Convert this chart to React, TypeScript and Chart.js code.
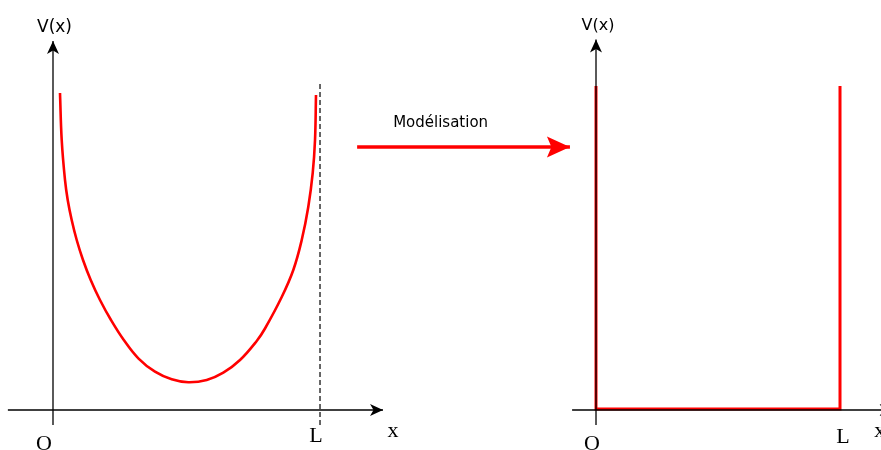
import React, { useEffect, useRef } from "react";
import { Chart, registerables } from "chart.js";

Chart.register(...registerables);

// Left panel: realistic potential well, x in units where L = 10
const curveX = [0.262, 0.326, 0.449, 0.551, 0.700, 0.888, 1.124, 1.412, 1.760, 2.172, 2.652, 3.195, 3.820, 4.446, 5.067, 5.757, 6.378, 7.004, 7.629, 7.940, 8.566, 9.000, 9.315, 9.562, 9.727, 9.813, 9.850];
const curveV = [9.969, 8.491, 7.233, 6.604, 5.975, 5.346, 4.717, 4.088, 3.459, 2.830, 2.201, 1.626, 1.204, 0.965, 0.871, 0.943, 1.173, 1.572, 2.170, 2.563, 3.553, 4.403, 5.346, 6.393, 7.453, 8.491, 9.906];

// Right panel: infinite square well model
const squareX = [0, 0, 10, 10];
const squareV = [10.19, 0.03, 0.03, 10.19];

// Axes extents (data units)
const leftAxisX = [-1.69, 12.36];
const leftAxisV = [-0.47, 11.6];
const rightAxisX = [-0.98, 12.2];
const rightAxisV = [-0.47, 11.65];
const boundaryX = [10, 10];
const boundaryV = [-0.47, 10.28];
// Modelling arrow (left-panel units)
const arrowX = [11.39, 19.36];
const arrowV = [8.27, 8.27];

const tickLabels = ["O", "L", "x"];
const yTitle = "V(x)";
const arrowTitle = "Modélisation";

function stealth(ctx: CanvasRenderingContext2D, tx: number, ty: number, ang: number, len: number, half: number, inset: number, color: string) {
  const c = Math.cos(ang), s = Math.sin(ang);
  const pt = (a: number, b: number) => [tx - a * c - b * -s, ty - a * s - b * c];
  ctx.save();
  ctx.fillStyle = color;
  ctx.beginPath();
  ctx.moveTo(tx, ty);
  let p = pt(len, half); ctx.lineTo(p[0], p[1]);
  p = pt(len - inset, 0); ctx.lineTo(p[0], p[1]);
  p = pt(len, -half); ctx.lineTo(p[0], p[1]);
  ctx.closePath();
  ctx.fill();
  ctx.restore();
}

const decor = {
  id: "decor",
  afterDatasetsDraw(chart: any) {
    const ctx = chart.ctx as CanvasRenderingContext2D;
    const xl = chart.scales.xl, xr = chart.scales.xr, y = chart.scales.y;
    // arrowheads
    stealth(ctx, xl.getPixelForValue(leftAxisX[1]), y.getPixelForValue(0), 0, 13, 6, 3.5, "#000");
    stealth(ctx, xl.getPixelForValue(0), y.getPixelForValue(leftAxisV[1]), -Math.PI / 2, 13, 6, 3.5, "#000");
    stealth(ctx, xr.getPixelForValue(rightAxisX[1]), y.getPixelForValue(0), 0, 14, 6, 3.5, "#000");
    stealth(ctx, xr.getPixelForValue(0), y.getPixelForValue(rightAxisV[1]), -Math.PI / 2, 13, 6, 3.5, "#000");
    stealth(ctx, xl.getPixelForValue(arrowX[1]), y.getPixelForValue(arrowV[1]), 0, 23, 10.5, 4.5, "#ff0000");

    ctx.save();
    ctx.fillStyle = "#000";
    ctx.textAlign = "center";
    ctx.textBaseline = "alphabetic";
    ctx.font = "22px 'Liberation Serif', serif";
    const y0 = y.getPixelForValue(0);
    // left panel
    ctx.fillText(tickLabels[0], xl.getPixelForValue(0) - 9, y0 + 40.5);
    ctx.fillText(tickLabels[1], xl.getPixelForValue(10) - 4, y0 + 32);
    ctx.fillText(tickLabels[2], xl.getPixelForValue(leftAxisX[1]) + 10, y0 + 27);
    // right panel
    ctx.fillText(tickLabels[0], xr.getPixelForValue(0) - 4, y0 + 40.5);
    ctx.fillText(tickLabels[1], xr.getPixelForValue(10) + 3, y0 + 33);
    ctx.fillText(tickLabels[2], xr.getPixelForValue(rightAxisX[1]) - 14, y0 + 27);

    ctx.font = "17px 'DejaVu Sans', sans-serif";
    ctx.textBaseline = "middle";
    ctx.fillText(yTitle, xl.getPixelForValue(0) + 1.5, y.getPixelForValue(leftAxisV[1]) - 14);
    ctx.font = "16px 'DejaVu Sans', sans-serif";
    ctx.fillText(yTitle, xr.getPixelForValue(0) + 2, y.getPixelForValue(rightAxisV[1]) - 14);

    ctx.font = "15px 'DejaVu Sans', sans-serif";
    ctx.textAlign = "left";
    ctx.textBaseline = "alphabetic";
    ctx.fillText(arrowTitle, xl.getPixelForValue(arrowX[0]) + 36, y.getPixelForValue(arrowV[0]) - 20);
    ctx.restore();
  },
};

const pts = (xs: number[], vs: number[]) => xs.map((x, i) => ({ x, y: vs[i] }));

export default function App() {
  const ref = useRef<HTMLCanvasElement | null>(null);
  useEffect(() => {
    document.body.style.margin = "0";
    const base = { showLine: true, pointRadius: 0, fill: false, clip: false as any };
    const chart = new Chart(ref.current!, {
      type: "scatter",
      data: {
        datasets: [
          { ...base, data: pts(leftAxisX, [0, 0]), xAxisID: "xl", borderColor: "#000", borderWidth: 1.3 },
          { ...base, data: pts([0, 0], leftAxisV), xAxisID: "xl", borderColor: "#000", borderWidth: 1.3 },
          { ...base, data: pts(boundaryX, boundaryV), xAxisID: "xl", borderColor: "#000", borderWidth: 1.2, borderDash: [5, 3] },
          { ...base, data: pts(curveX, curveV), xAxisID: "xl", borderColor: "#ff0000", borderWidth: 2.6, tension: 0.4 },
          { ...base, data: pts(arrowX, arrowV), xAxisID: "xl", borderColor: "#ff0000", borderWidth: 3.5 },
          { ...base, data: pts(rightAxisX, [0, 0]), xAxisID: "xr", borderColor: "#000", borderWidth: 1.3 },
          { ...base, data: pts([0, 0], rightAxisV), xAxisID: "xr", borderColor: "#000", borderWidth: 1.3 },
          { ...base, data: pts(squareX, squareV), xAxisID: "xr", borderColor: "#ff0000", borderWidth: 3 },
        ] as any,
      },
      options: {
        responsive: false,
        animation: false,
        layout: { padding: 0 },
        plugins: { legend: { display: false }, tooltip: { enabled: false } },
        scales: {
          xl: { type: "linear", display: false, min: -1.985, max: 31.01 },
          xr: { type: "linear", display: false, min: -24.426, max: 11.68 },
          y: { type: "linear", display: false, min: -1.258, max: 12.893 },
        },
      },
      plugins: [decor],
    });
    return () => chart.destroy();
  }, []);
  return (
    <div style={{ position: "fixed", left: 0, top: 0, width: 881, height: 450, background: "#fff" }}>
      <canvas ref={ref} width={881} height={450} />
    </div>
  );
}
